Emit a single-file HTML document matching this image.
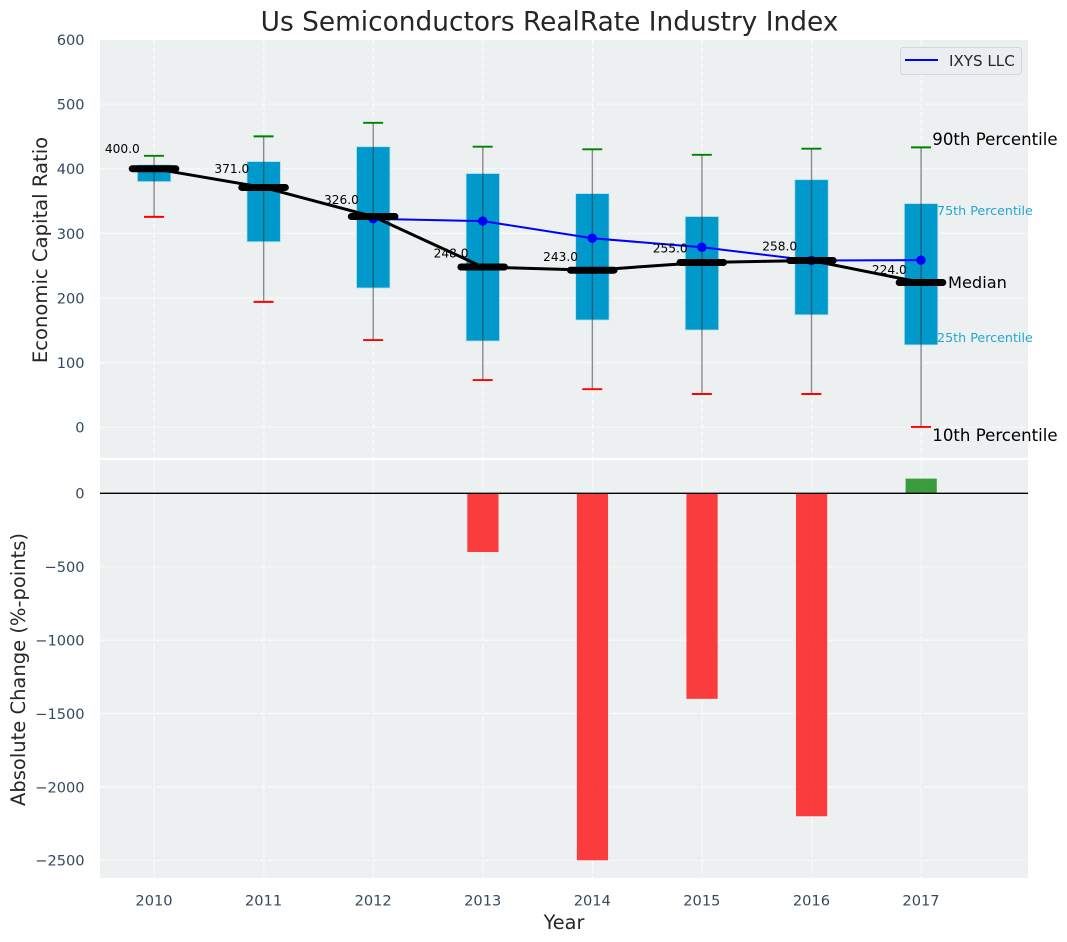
<!DOCTYPE html>
<html lang="en">
<head>
<meta charset="utf-8">
<title>Us Semiconductors RealRate Industry Index</title>
<style>
html,body{margin:0;padding:0;background:#fff;width:1067px;height:942px;overflow:hidden}
svg{display:block}
text{font-family:"DejaVu Sans","Liberation Sans",sans-serif}
</style>
</head>
<body>
<svg id="chart" xmlns="http://www.w3.org/2000/svg" width="1067" height="942" viewBox="0 0 1067 942">
<defs>
<clipPath id="clip-top"><rect x="100" y="40" width="928" height="418"/></clipPath>
<clipPath id="clip-bottom"><rect x="100" y="460" width="928" height="418"/></clipPath>
</defs>
</svg>
<script>
const years = [2010, 2011, 2012, 2013, 2014, 2015, 2016, 2017];
const p10 = [325.5, 194, 135, 73, 59, 51.5, 51.5, 0.5];
const p25 = [380, 287, 215.5, 133.5, 166, 150.5, 174, 127.5];
const medians = [400, 371, 326, 248, 243, 255, 258, 224];
const p75 = [406, 411, 434, 392.5, 361.5, 326, 383, 346];
const p90 = [420, 450, 471, 434, 430, 421.5, 431, 433];
const companyYears = [2012, 2013, 2014, 2015, 2016, 2017];
const companyValues = [322.5, 319, 292.5, 278.5, 258, 258.5];
const changeYears = [2013, 2014, 2015, 2016, 2017];
const changeValues = [-400, -2500, -1400, -2200, 100];
const topTicks = [0, 100, 200, 300, 400, 500, 600];
const bottomTicks = [0, -500, -1000, -1500, -2000, -2500];

const NS = 'http://www.w3.org/2000/svg';
const svg = document.getElementById('chart');

const xScale = v => 154 + (v - 2010) * 109.57;
const yTop = v => 427.3 - v * 0.6465;
const yBottom = v => 493.3 - v * 0.14680;

function make(tag, attrs, parent) {
  const el = document.createElementNS(NS, tag);
  for (const k in attrs) el.setAttribute(k, attrs[k]);
  (parent || svg).appendChild(el);
  return el;
}
function label(str, attrs, parent) {
  const el = make('text', attrs, parent);
  el.textContent = str;
  return el;
}
const fmtTick = v => (v < 0 ? '\u2212' + Math.abs(v) : String(v));

/* panels */
const panelTop = make('rect', {x: 100, y: 40, width: 928, height: 418, fill: '#ecf0f1'});


const panelBottom = make('rect', {x: 100, y: 460, width: 928, height: 418, fill: '#ecf0f1'});



const topG = make('g', {'clip-path': 'url(#clip-top)'});


const bottomG = make('g', {'clip-path': 'url(#clip-bottom)'});



const gridStyle = {stroke: '#ffffff', 'stroke-width': 1.2, 'stroke-opacity': 0.75, 'stroke-dasharray': '5.5 2.5'};

/* grid */
topTicks.forEach(t => {
  const g = make('line', Object.assign({x1: 100, x2: 1028, y1: yTop(t), y2: yTop(t)}, gridStyle), topG);
  
  
});
bottomTicks.forEach(t => {
  const g = make('line', Object.assign({x1: 100, x2: 1028, y1: yBottom(t), y2: yBottom(t)}, gridStyle), bottomG);
  
  
});
years.forEach(y => {
  const a = make('line', Object.assign({x1: xScale(y) + 0.3, x2: xScale(y) + 0.3, y1: 40, y2: 458}, gridStyle), topG);
  
  
  const b = make('line', Object.assign({x1: xScale(y) + 0.3, x2: xScale(y) + 0.3, y1: 460, y2: 878}, gridStyle), bottomG);
  
  
});

/* boxes */
years.forEach((y, i) => {
  const box = make('rect', {
    x: xScale(y) - 16.6, width: 33.4,
    y: yTop(p75[i]), height: yTop(p25[i]) - yTop(p75[i]),
    fill: '#0099cc', stroke: '#b5dcea', 'stroke-width': 0.8
  }, topG);
  
  
});

/* whiskers */
years.forEach((y, i) => {
  const w = make('line', {
    x1: xScale(y) + 0.1, x2: xScale(y) + 0.1, y1: yTop(p90[i]), y2: yTop(p10[i]),
    stroke: '#333333', 'stroke-opacity': 0.55, 'stroke-width': 1.4
  }, topG);
  
  
  const hi = make('line', {
    x1: xScale(y) - 10, x2: xScale(y) + 10, y1: yTop(p90[i]), y2: yTop(p90[i]),
    stroke: '#008000', 'stroke-width': 1.9
  }, topG);
  
  
  const lo = make('line', {
    x1: xScale(y) - 10, x2: xScale(y) + 10, y1: yTop(p10[i]), y2: yTop(p10[i]),
    stroke: '#ff0000', 'stroke-width': 1.9
  }, topG);
  
  
});

/* company series */
const companyLine = make('polyline', {
  points: companyYears.map((y, i) => xScale(y) + ',' + yTop(companyValues[i])).join(' '),
  fill: 'none', stroke: '#0000ff', 'stroke-width': 2
}, topG);


companyYears.forEach((y, i) => {
  const c = make('circle', {cx: xScale(y), cy: yTop(companyValues[i]), r: 4.7, fill: '#0000ff'}, topG);
  
  
});

/* median line and bars */
const medianLine = make('polyline', {
  points: years.map((y, i) => xScale(y) + ',' + yTop(medians[i])).join(' '),
  fill: 'none', stroke: '#000000', 'stroke-width': 3
}, topG);


years.forEach((y, i) => {
  const m = make('line', {
    x1: xScale(y) - 21.8, x2: xScale(y) + 21.8, y1: yTop(medians[i]), y2: yTop(medians[i]),
    stroke: '#000000', 'stroke-width': 7, 'stroke-linecap': 'round'
  }, topG);
  
  
  const t = label(medians[i].toFixed(1), {
    x: xScale(y) - 31.7, y: yTop(medians[i] * 1.06), 'text-anchor': 'middle',
    'font-size': 12.2, fill: '#000000'
  });
  
  
});

/* change bars */
changeYears.forEach((y, i) => {
  const v = changeValues[i];
  const b = make('rect', {
    x: xScale(y) - 15.4, width: 31.2,
    y: Math.min(yBottom(v), yBottom(0)),
    height: Math.abs(yBottom(v) - yBottom(0)),
    fill: v < 0 ? '#ff0000' : '#008000', 'fill-opacity': 0.75
  }, bottomG);
  
  
});
const zero = make('line', {x1: 100, x2: 1028, y1: yBottom(0), y2: yBottom(0), stroke: '#000000', 'stroke-width': 1.4}, bottomG);



/* tick labels */
const tickColor = '#34495e';
topTicks.forEach(t => {
  const el = label(fmtTick(t), {x: 84.6, y: yTop(t) + 5.4, 'text-anchor': 'end', 'font-size': 14.6, fill: tickColor});
  
  
});
bottomTicks.forEach(t => {
  const el = label(fmtTick(t), {x: 84.6, y: yBottom(t) + 5.4, 'text-anchor': 'end', 'font-size': 14.6, fill: tickColor});
  
  
});
years.forEach(y => {
  const el = label(String(y), {x: xScale(y), y: 905.5, 'text-anchor': 'middle', 'font-size': 14.6, fill: tickColor});
  
  
});

/* titles */
const title = label('Us Semiconductors RealRate Industry Index', {x: 549.5, y: 30.5, 'text-anchor': 'middle', 'font-size': 26.4, fill: '#262626'});


const xTitle = label('Year', {x: 564, y: 929, 'text-anchor': 'middle', 'font-size': 19.3, fill: '#262626'});


const yTitleTop = label('Economic Capital Ratio', {x: 0, y: 0, 'text-anchor': 'middle', 'font-size': 19.6, fill: '#262626', transform: 'translate(47 250) rotate(-90)'});


const yTitleBottom = label('Absolute Change (%-points)', {x: 0, y: 0, 'text-anchor': 'middle', 'font-size': 19.5, fill: '#262626', transform: 'translate(25 669.5) rotate(-90)'});



/* annotations */
const a90 = label('90th Percentile', {x: 932.3, y: 145, 'font-size': 16.6, fill: '#000000'});


const a75 = label('75th Percentile', {x: 937, y: 215, 'font-size': 12.7, fill: '#0099cc', 'fill-opacity': 0.85});


const aMed = label('Median', {x: 948, y: 288, 'font-size': 16.2, fill: '#000000'});


const a25 = label('25th Percentile', {x: 937, y: 342, 'font-size': 12.7, fill: '#0099cc', 'fill-opacity': 0.85});


const a10 = label('10th Percentile', {x: 932.3, y: 441, 'font-size': 16.6, fill: '#000000'});



/* legend */
const legend = make('g', {});


const legendBox = make('rect', {x: 900.5, y: 47.5, width: 121, height: 27, rx: 3, fill: '#eaecf1', 'fill-opacity': 0.95, stroke: '#d4d6db', 'stroke-width': 1}, legend);


const legendLine = make('line', {x1: 905, x2: 938, y1: 60, y2: 60, stroke: '#0000ff', 'stroke-width': 2}, legend);


const legendText = label('IXYS LLC', {x: 949, y: 66, 'font-size': 15.1, fill: '#262626'}, legend);


</script>
</body>
</html>
